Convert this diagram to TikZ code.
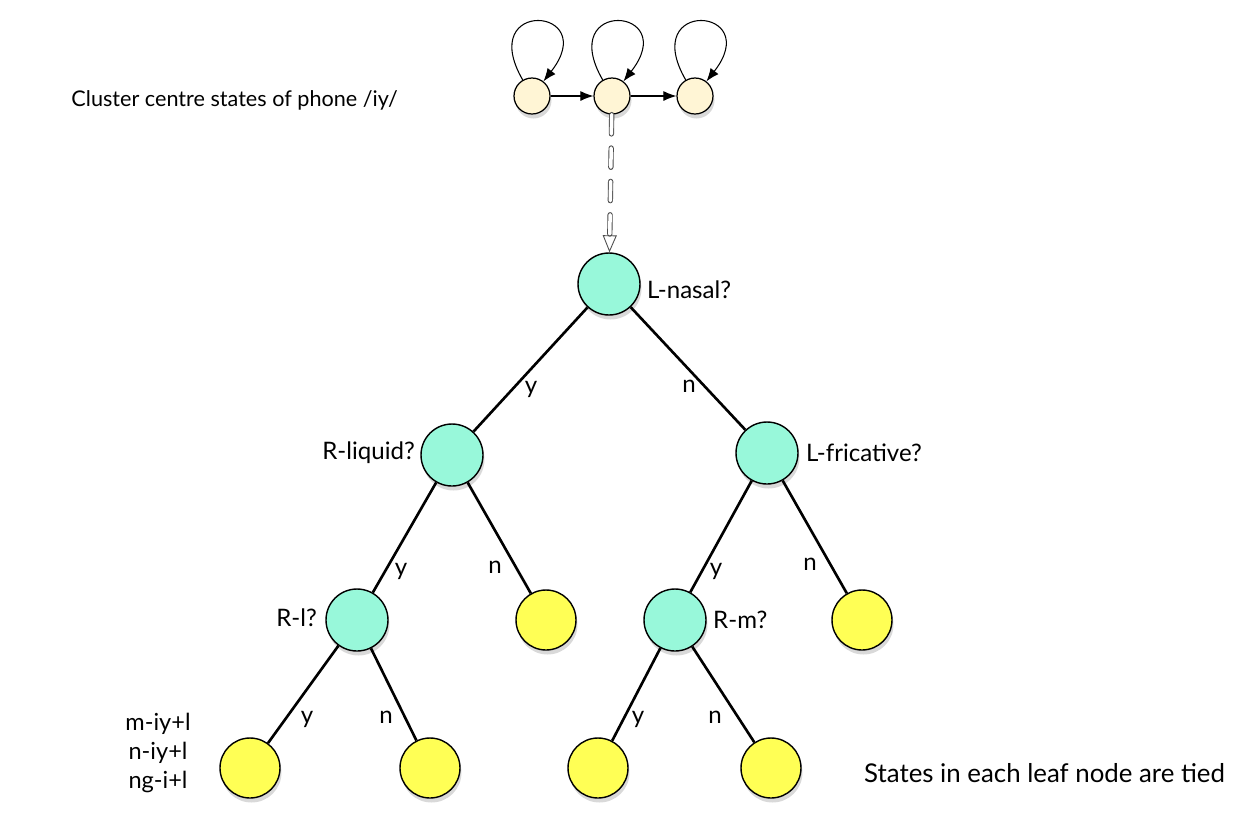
\documentclass[tikz,border=0pt]{standalone}
\usepackage{fontspec}
\setmainfont{Lato}
\usepackage{tikz}
\usetikzlibrary{arrows.meta, shadows}
\definecolor{statecream}{RGB}{255,245,213}
\definecolor{quesgreen}{RGB}{152,248,218}
\definecolor{leafyellow}{RGB}{255,255,85}

\begin{document}
\begin{tikzpicture}[
    x=0.02cm, y=-0.02cm,
    every node/.style={font=\fontsize{13.7}{17}\selectfont},
    sh/.style={drop shadow={shadow xshift=0.3mm, shadow yshift=-0.9mm, opacity=0.3}},
    hmm/.style={circle, draw, line width=0.7pt, fill=statecream, minimum size=0.72cm, inner sep=0pt, sh},
    ques/.style={circle, draw, line width=0.8pt, fill=quesgreen, minimum size=1.24cm, inner sep=0pt, sh},
    leaf/.style={circle, draw, line width=0.8pt, fill=leafyellow, minimum size=1.2cm, inner sep=0pt, sh},
    arr/.style={-{Latex[length=2.6mm, width=2mm]}, line width=0.6pt},
    br/.style={line width=1.5pt},
    lbl/.style={inner sep=1pt},
]
\useasboundingbox (0,0) rectangle (1252,826);

% HMM states of the phone
\node[hmm] (s1) at (532,96) {};
\node[hmm] (s2) at (612,96) {};
\node[hmm] (s3) at (695,96) {};
\node[anchor=east, font=\fontsize{12.3}{15}\selectfont] (cap) at (404,100) {Cluster centre states of phone /iy/};

\draw[arr] (s1) -- (s2);
\draw[arr] (s2) -- (s3);
\foreach \s in {s1,s2,s3}
  \draw[arr] (\s) to[out=120, in=52, loop, min distance=1.9cm] (\s);

% question tree
\node[ques] (q0) at (609,284) {};
\node[ques] (q1) at (452,455) {};
\node[ques] (q2) at (767,453) {};
\node[ques] (q3) at (357,620) {};
\node[leaf] (l1) at (546,620) {};
\node[ques] (q4) at (675,620) {};
\node[leaf] (l2) at (862,620) {};
\node[leaf] (l3) at (250,768) {};
\node[leaf] (l4) at (430,768) {};
\node[leaf] (l5) at (598,768) {};
\node[leaf] (l6) at (771,768) {};

\draw[-{Triangle[open, length=3.4mm, width=2.8mm, line width=0.5pt]}, line width=0.5pt, line cap=round,
      dash pattern=on 11pt off 8pt, double=white, double distance=2pt, draw=black!70] (s2) -- (q0);

\draw[br] (q0) -- (q1);
\draw[br] (q0) -- (q2);
\draw[br] (q1) -- (q3);
\draw[br] (q1) -- (l1);
\draw[br] (q2) -- (q4);
\draw[br] (q2) -- (l2);
\draw[br] (q3) -- (l3);
\draw[br] (q3) -- (l4);
\draw[br] (q4) -- (l5);
\draw[br] (q4) -- (l6);

% question labels
\node[anchor=west] (t0) at (641,290) {L-nasal?};
\node[anchor=east] (t1) at (421,453) {R-liquid?};
\node[anchor=west] (t2) at (800,453) {L-fricative?};
\node[anchor=east] (t3) at (323,618) {R-l?};
\node[anchor=west] (t4) at (707,620) {R-m?};

% answers
\node[lbl] (a1) at (531,389) {y};
\node[lbl] (a2) at (689,386) {n};
\node[lbl] (a3) at (401,571) {y};
\node[lbl] (a4) at (495,567) {n};
\node[lbl] (a5) at (716,571) {y};
\node[lbl] (a6) at (810,564) {n};
\node[lbl] (a7) at (307,719) {y};
\node[lbl] (a8) at (386,717) {n};
\node[lbl] (a9) at (638,719) {y};
\node[lbl] (a10) at (715,717) {n};

\node[align=center, font=\fontsize{13.4}{16.5}\selectfont] (tied) at (158,753) {m-iy+l\\n-iy+l\\ng-i+l};
\node[anchor=west, font=\fontsize{14.7}{17}\selectfont] (note) at (858,773) {States in each leaf node are tied};
\end{tikzpicture}
\end{document}
